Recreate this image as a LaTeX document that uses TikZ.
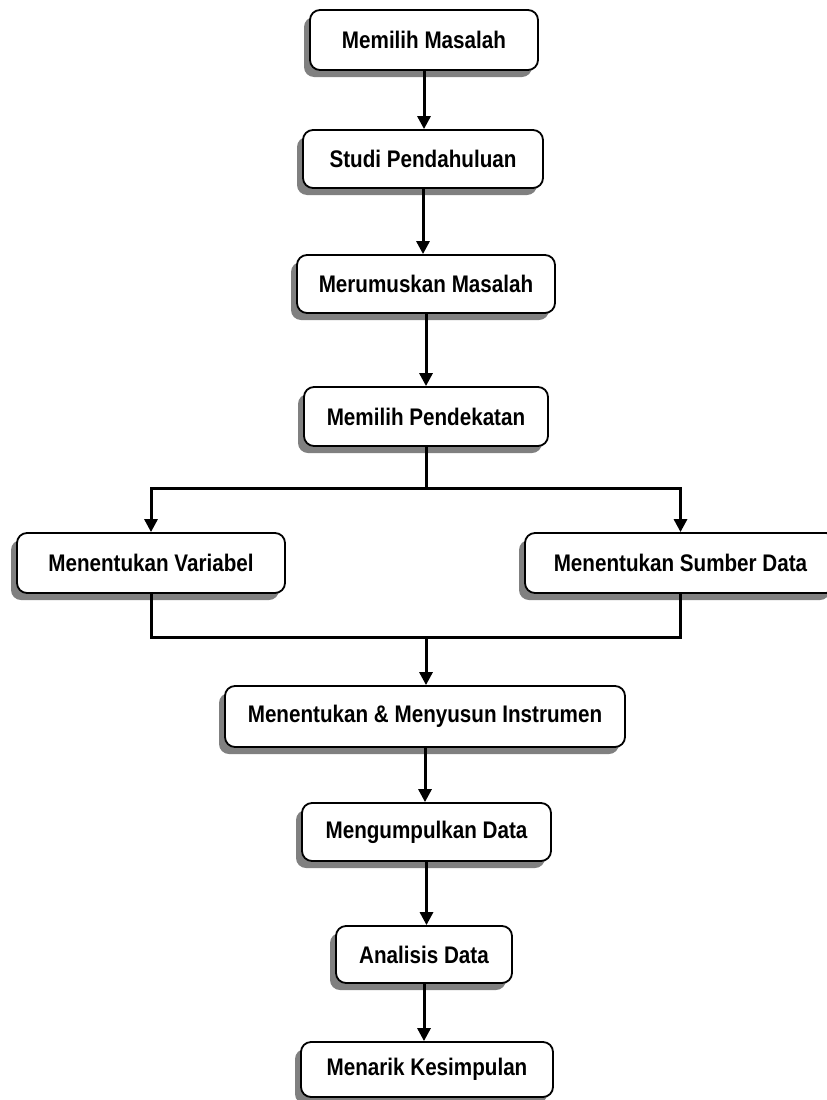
\documentclass[tikz,border=0pt]{standalone}
\usepackage{fontspec}
\setmainfont{Liberation Sans}[FakeStretch=0.86]
\usetikzlibrary{shadows,arrows.meta}
\begin{document}
\begin{tikzpicture}[x=1pt,y=1pt,
  box/.style={draw, rounded corners=10pt, fill=white, line width=1.8pt,
    font=\fontsize{24}{27}\selectfont\bfseries, inner sep=0pt,
    general shadow={fill=black!50, draw=none, shadow xshift=-6pt, shadow yshift=-7pt}},
  conn/.style={line width=3pt},
  arr/.style={conn, -{Triangle[length=13pt,width=13pt]}}]
\useasboundingbox (0,0) rectangle (827,-1100);
\node[box, minimum width=228pt, minimum height=60pt] (b1) at (424,-40) {Memilih Masalah};
\node[box, minimum width=240pt, minimum height=58pt] (b2) at (423,-159) {Studi Pendahuluan};
\node[box, minimum width=258pt, minimum height=58pt] (b3) at (426,-284) {Merumuskan Masalah};
\node[box, minimum width=244pt, minimum height=59pt] (b4) at (426,-416.5) {Memilih Pendekatan};
\node[box, minimum width=268pt, minimum height=60pt] (b5) at (151,-563) {Menentukan Variabel};
\node[box, minimum width=311pt, minimum height=60pt] (b6) at (680.5,-563) {Menentukan Sumber Data};
\node[box, minimum width=400pt, minimum height=61pt] (b7) at (425,-716.5) {Menentukan \& Menyusun Instrumen};
\node[box, minimum width=249pt, minimum height=58pt] (b8) at (426.5,-832) {Mengumpulkan Data};
\node[box, minimum width=176pt, minimum height=57pt] (b9) at (424,-954.5) {Analisis Data};
\node[box, minimum width=252pt, minimum height=55pt] (b10) at (427,-1069.5) {Menarik Kesimpulan};
\coordinate (j1) at (426,-488);
\coordinate (j2) at (426,-637);
\draw[arr] (b1.south) -- (b1.south |- b2.north);
\draw[arr] (b2.south) -- (b2.south |- b3.north);
\draw[arr] (b3.south) -- (b3.south |- b4.north);
\draw[conn] (b4.south) -- (j1);
\draw[arr] (j1) -| (b5.north);
\draw[arr] (j1) -| (b6.north);
\draw[conn] (b5.south) |- (j2);
\draw[conn] (b6.south) |- (j2);
\draw[arr] (j2) -- (j2 |- b7.north);
\draw[arr] (b7.south) -- (b7.south |- b8.north);
\draw[arr] (b8.south) -- (b8.south |- b9.north);
\draw[arr] (b9.south) -- (b9.south |- b10.north);
\end{tikzpicture}
\end{document}
